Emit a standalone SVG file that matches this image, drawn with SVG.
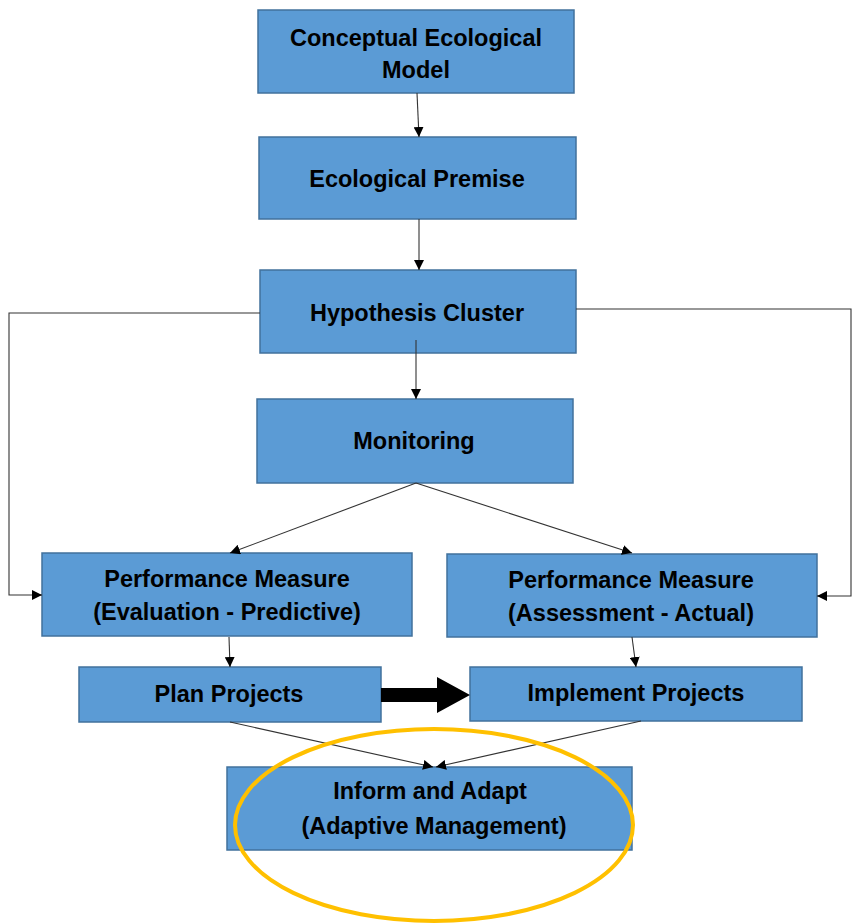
<svg xmlns="http://www.w3.org/2000/svg" width="859" height="923" viewBox="0 0 859 923">
<defs>
<style>
.box{fill:#5B9BD5;stroke:#41719C;stroke-width:1.5}
.t{font-family:"Liberation Sans",Arial,sans-serif;font-weight:bold;font-size:23.5px;fill:#000;text-anchor:middle}
.c{fill:none;stroke:#333;stroke-width:1.1}
</style>
<marker id="ah" viewBox="0 0 10 10" refX="10" refY="5" markerWidth="10" markerHeight="10" markerUnits="userSpaceOnUse" orient="auto">
<path d="M0,0 L10,5 L0,10 z" fill="#000"/>
</marker>
</defs>
<rect width="859" height="923" fill="#fff"/>
<g id="n1"><rect class="box" x="258" y="10" width="316" height="83"/><text class="t" x="416" y="46">Conceptual Ecological</text><text class="t" x="416" y="78">Model</text></g>
<g id="n2"><rect class="box" x="259" y="137" width="317" height="82"/><text class="t" x="417" y="187">Ecological Premise</text></g>
<g id="n3"><rect class="box" x="260" y="270" width="316" height="83"/><text class="t" x="417" y="321">Hypothesis Cluster</text></g>
<g id="n4"><rect class="box" x="257" y="399" width="316" height="84"/><text class="t" x="414" y="449">Monitoring</text></g>
<g id="n5"><rect class="box" x="42" y="553" width="370" height="83"/><text class="t" x="227" y="587">Performance Measure</text><text class="t" x="227" y="620">(Evaluation - Predictive)</text></g>
<g id="n6"><rect class="box" x="447" y="554" width="370" height="83"/><text class="t" x="631" y="588">Performance Measure</text><text class="t" x="631" y="621">(Assessment - Actual)</text></g>
<g id="n7"><rect class="box" x="79" y="667" width="302" height="55"/><text class="t" x="229" y="702">Plan Projects</text></g>
<g id="n8"><rect class="box" x="470" y="667" width="332" height="54"/><text class="t" x="636" y="701">Implement Projects</text></g>
<g id="n9"><rect class="box" x="227" y="767" width="405" height="83"/><text class="t" x="430" y="799">Inform and Adapt</text><text class="t" x="434" y="834">(Adaptive Management)</text></g>
<g id="connectors">
<line class="c" x1="417" y1="93" x2="419" y2="137" marker-end="url(#ah)"/>
<line class="c" x1="419" y1="219" x2="419" y2="270" marker-end="url(#ah)"/>
<line class="c" x1="416" y1="340" x2="416" y2="399" marker-end="url(#ah)"/>
<polyline class="c" points="260,313 9,313 9,595 42,595" marker-end="url(#ah)"/>
<polyline class="c" points="576,309 851,309 851,596 817,596" marker-end="url(#ah)"/>
<line class="c" x1="416" y1="483" x2="230" y2="553" marker-end="url(#ah)"/>
<line class="c" x1="416" y1="483" x2="632" y2="553" marker-end="url(#ah)"/>
<line class="c" x1="229" y1="637" x2="230" y2="667" marker-end="url(#ah)"/>
<line class="c" x1="632" y1="637" x2="636" y2="667" marker-end="url(#ah)"/>
<line class="c" x1="230" y1="722" x2="433" y2="767" marker-end="url(#ah)"/>
<line class="c" x1="641" y1="721" x2="436" y2="767" marker-end="url(#ah)"/>
<path d="M381,688 L437,688 L437,677 L470,695 L437,713 L437,702 L381,702 z" fill="#000"/>
</g>
<ellipse id="highlight" cx="434" cy="825" rx="199" ry="96" fill="none" stroke="#FFC000" stroke-width="4"/>
</svg>
